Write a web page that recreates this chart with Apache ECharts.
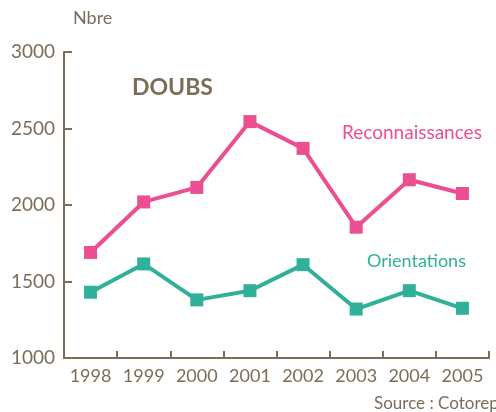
<!DOCTYPE html>
<html>
<head>
<meta charset="utf-8">
<script src="https://cdn.jsdelivr.net/npm/echarts@6/dist/echarts.min.js"></script>
<style>
  html, body { margin: 0; padding: 0; background: #fff; }
  #chart { width: 496px; height: 412px; }
</style>
</head>
<body>
<div id="chart"></div>
<script>
// données
var annees = ['1998', '1999', '2000', '2001', '2002', '2003', '2004', '2005'];
var reconnaissances = [1690, 2020, 2115, 2545, 2370, 1855, 2165, 2075];
var orientations = [1430, 1615, 1380, 1440, 1610, 1320, 1440, 1325];
var yTicks = [1000, 1500, 2000, 2500, 3000];

var brun = '#7d6c58';
var rose = '#ec4f91';
var vert = '#30b098';
var police = 'Lato, "Open Sans", sans-serif';

var myChart = echarts.init(document.getElementById('chart'));

var option = {
    animation: false,
    textStyle: { fontFamily: police },
    grid: { left: 64, right: 7, top: 52, bottom: 54 },
    graphic: [
        { type: 'text', left: 73, top: 9, style: { text: 'Nbre', fill: brun, font: '18px ' + police } },
        { type: 'text', left: 132, top: 76, style: { text: 'DOUBS', fill: brun, font: 'bold 23px ' + police } },
        { type: 'text', left: 342, top: 123, style: { text: 'Reconnaissances', fill: rose, font: '19px ' + police } },
        { type: 'text', left: 367, top: 252, style: { text: 'Orientations', fill: vert, font: '18px ' + police } },
        { type: 'text', left: 374, top: 395, style: { text: 'Source : Cotorep', fill: brun, font: '17px ' + police } }
    ],
    xAxis: {
        type: 'category',
        data: annees,
        boundaryGap: true,
        axisLine: { lineStyle: { color: brun, width: 2 } },
        axisTick: { show: true, interval: 0, inside: true, length: 7, lineStyle: { color: brun, width: 2 } },
        axisLabel: { color: brun, fontSize: 18, margin: 9, interval: 0 },
        splitLine: { show: false }
    },
    yAxis: {
        type: 'value',
        min: yTicks[0],
        max: yTicks[yTicks.length - 1],
        interval: 500,
        axisLine: { show: true, lineStyle: { color: brun, width: 2 } },
        axisTick: { show: true, inside: true, length: 8, lineStyle: { color: brun, width: 2 } },
        axisLabel: { color: brun, fontSize: 19, margin: 9, formatter: function (v) { return String(v); } },
        splitLine: { show: false }
    },
    series: [{
        name: 'Reconnaissances',
        type: 'line',
        data: reconnaissances,
        symbol: 'rect',
        symbolSize: 13,
        lineStyle: { color: rose, width: 4 },
        itemStyle: { color: rose }
    }, {
        name: 'Orientations',
        type: 'line',
        data: orientations,
        symbol: 'rect',
        symbolSize: 13,
        lineStyle: { color: vert, width: 4 },
        itemStyle: { color: vert }
    }]
};

myChart.setOption(option);
</script>
</body>
</html>
